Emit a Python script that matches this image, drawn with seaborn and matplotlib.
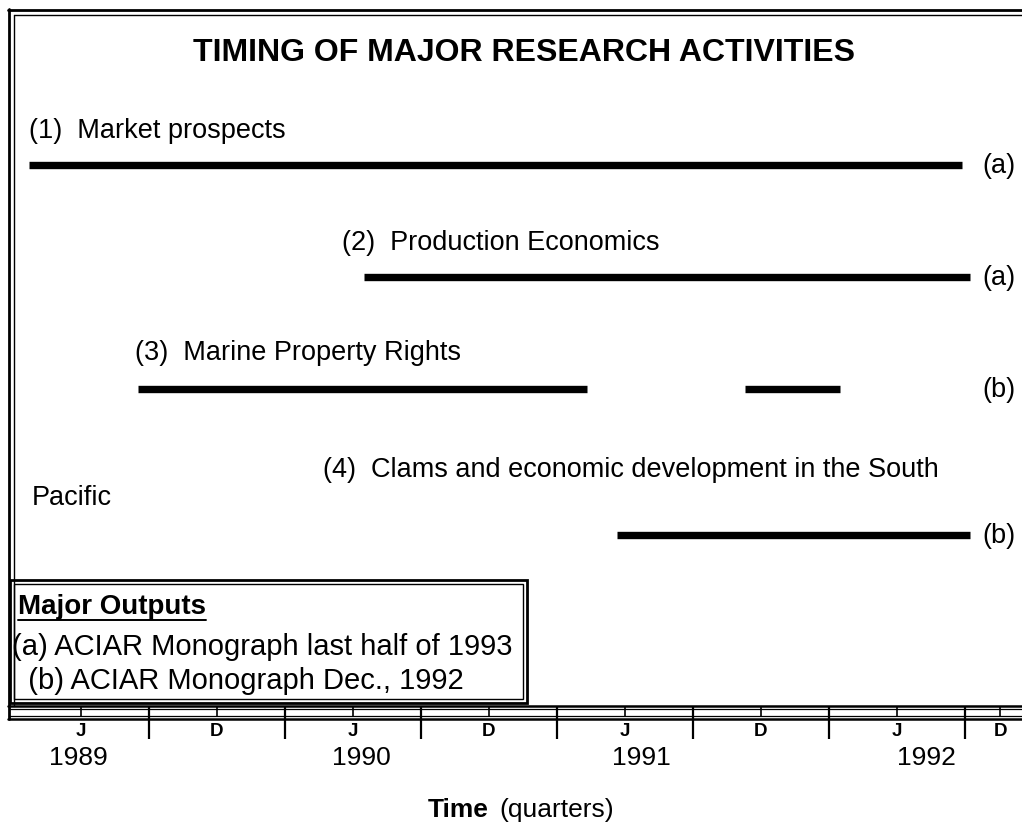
"""
Timing of major research activities - Gantt style chart
"""

import matplotlib.pyplot as plt
import seaborn as sns
import pandas as pd
from matplotlib.lines import Line2D
from matplotlib.patches import Rectangle
from matplotlib.transforms import Affine2D

# ---- data -------------------------------------------------------------
activities = [
    "(1)  Market prospects",
    "(2)  Production Economics",
    "(3)  Marine Property Rights",
    "(4)  Clams and economic development in the South",
]
activity_wrap = ["", "", "", "Pacific"]
activity_output = ["(a)", "(a)", "(b)", "(b)"]
label_start = [1989.06, 1990.21, 1989.45, 1990.14]

seg_activity = [0, 1, 2, 2, 3]
seg_start = [1989.06, 1990.29, 1989.46, 1991.69, 1991.22]
seg_end = [1992.49, 1992.52, 1991.11, 1992.04, 1992.52]

half_labels = ["J", "D", "J", "D", "J", "D", "J", "D"]
half_pos = [1989.25, 1989.75, 1990.25, 1990.75, 1991.25, 1991.75, 1992.25, 1992.63]
half_bounds = [1989.5, 1990.0, 1990.5, 1991.0, 1991.5, 1992.0, 1992.5]
years = ["1989", "1990", "1991", "1992"]
year_pos = [1989.24, 1990.28, 1991.31, 1992.36]

outputs_title = "Major Outputs"
outputs_text = [
    "(a) ACIAR Monograph last half of 1993",
    "  (b) ACIAR Monograph Dec., 1992",
]

# ---- layout -----------------------------------------------------------
W, H = 1022, 826
row_y = [0, 1, 2, 3.3]              # row positions (row units)
label_dy = [-0.30, -0.30, -0.32, -0.58]
px_per_year = 272
x0_px = 13                          # pixel of 1 Jan 1989

sns.set_style("white")
plt.rcParams["font.family"] = ["Liberation Sans", "DejaVu Sans"]
plt.rcParams["text.color"] = "black"
plt.rcParams["xtick.color"] = "black"
plt.rcParams["xtick.labelcolor"] = "black"

fig = plt.figure(figsize=(W / 100, H / 100), dpi=100)
pix = Affine2D().scale(1 / W, -1 / H).translate(0, 1) + fig.transFigure


def to_year(px):
    return 1989 + (px - x0_px) / px_per_year


def fig_box(left, top, right, bottom):
    return [left / W, 1 - bottom / H, (right - left) / W, (bottom - top) / H]


xlim = (to_year(9), to_year(W))

# main drawing area
ax = fig.add_axes(fig_box(9, 10, W, 705))
ax.set_xlim(*xlim)
ax.set_ylim(4.82, -1.38)
ax.axis("off")

seg_rows = []
for i, (a, s, e) in enumerate(zip(seg_activity, seg_start, seg_end)):
    seg_rows.append({"seg": i, "year": s, "row": row_y[a]})
    seg_rows.append({"seg": i, "year": e, "row": row_y[a]})
segments = pd.DataFrame(seg_rows)

sns.lineplot(data=segments, x="year", y="row", units="seg", estimator=None,
             sort=False, color="black", linewidth=5.3, solid_capstyle="butt",
             legend=False, ax=ax)

body = 19.5
for i, name in enumerate(activities):
    ax.text(label_start[i], row_y[i] + label_dy[i], name, fontsize=body,
            ha="left", va="center")
    if activity_wrap[i]:
        ax.text(to_year(32), row_y[i] - 0.33, activity_wrap[i],
                fontsize=body, ha="left", va="center")
    ax.text(to_year(982), row_y[i] + 0.01, activity_output[i], fontsize=body,
            ha="left", va="center")

ax.text(0.508, 1 - 43 / 695, "TIMING OF MAJOR RESEARCH ACTIVITIES",
        transform=ax.transAxes, fontsize=23, fontweight="bold",
        ha="center", va="center")

# time band axis
bx = fig.add_axes(fig_box(9, 705.5, W, 718.5))
bx.set_xlim(*xlim)
bx.set_ylim(0, 1)
for s in bx.spines.values():
    s.set_visible(False)
bx.set_yticks([])
bx.set_xticks(half_bounds)
bx.set_xticklabels([])
bx.set_xticks(half_pos, minor=True)
bx.set_xticklabels(half_labels, minor=True, fontsize=13.5, fontweight="bold")
bx.tick_params(axis="x", which="major", top=True, bottom=False,
               direction="in", length=24, width=1.6, color="black",
               labelbottom=False)
bx.tick_params(axis="x", which="minor", top=True, bottom=False,
               direction="in", length=7.5, width=1.2, color="black",
               labelbottom=True, labeltop=False, pad=3.5)
for y, pos in zip(years, year_pos):
    bx.text(pos, -3.05, y, fontsize=19, ha="center", va="center",
            transform=bx.get_xaxis_transform())

fig.text(428 / W, 1 - 810 / H, "Time", fontsize=19, fontweight="bold",
         ha="left", va="center")
fig.text(499 / W, 1 - 810 / H, "(quarters)", fontsize=19,
         ha="left", va="center")

# frame lines (double rules)
frame = [
    ((9, 9), (9, 718.5), 2.0),
    ((14, 14), (15, 705.5), 1.0),
    ((8, W), (10, 10), 2.0),
    ((14, W), (15, 15), 1.0),
    ((8, W), (705.5, 705.5), 1.8),
    ((9, W), (709, 709), 0.9),
    ((9, W), (715.5, 715.5), 0.9),
    ((8, W), (718.5, 718.5), 1.8),
]
for xs, ys, lw in frame:
    fig.add_artist(Line2D(xs, ys, transform=pix, color="black", lw=lw))

# outputs box
fig.add_artist(Rectangle((10, 580), 517, 123, transform=pix, fill=True,
                         facecolor="white", edgecolor="black", lw=2.0))
fig.add_artist(Rectangle((14, 584), 509, 115, transform=pix, fill=False,
                         edgecolor="black", lw=1.0))
title_txt = fig.text(18 / W, 1 - 607 / H, outputs_title, fontsize=20,
                     fontweight="bold", ha="left", va="center")
fig.text(12 / W, 1 - 647 / H, outputs_text[0], fontsize=21,
         ha="left", va="center")
fig.text(12 / W, 1 - 681 / H, outputs_text[1], fontsize=21,
         ha="left", va="center")

# underline for the box heading
renderer = fig.canvas.get_renderer()
bb = title_txt.get_window_extent(renderer)
fig.add_artist(Line2D([bb.x0 / W, bb.x1 / W], [1 - 620 / H, 1 - 620 / H],
                      transform=fig.transFigure, color="black", lw=1.4))

fig.savefig("out.png", dpi=100, facecolor="white")
